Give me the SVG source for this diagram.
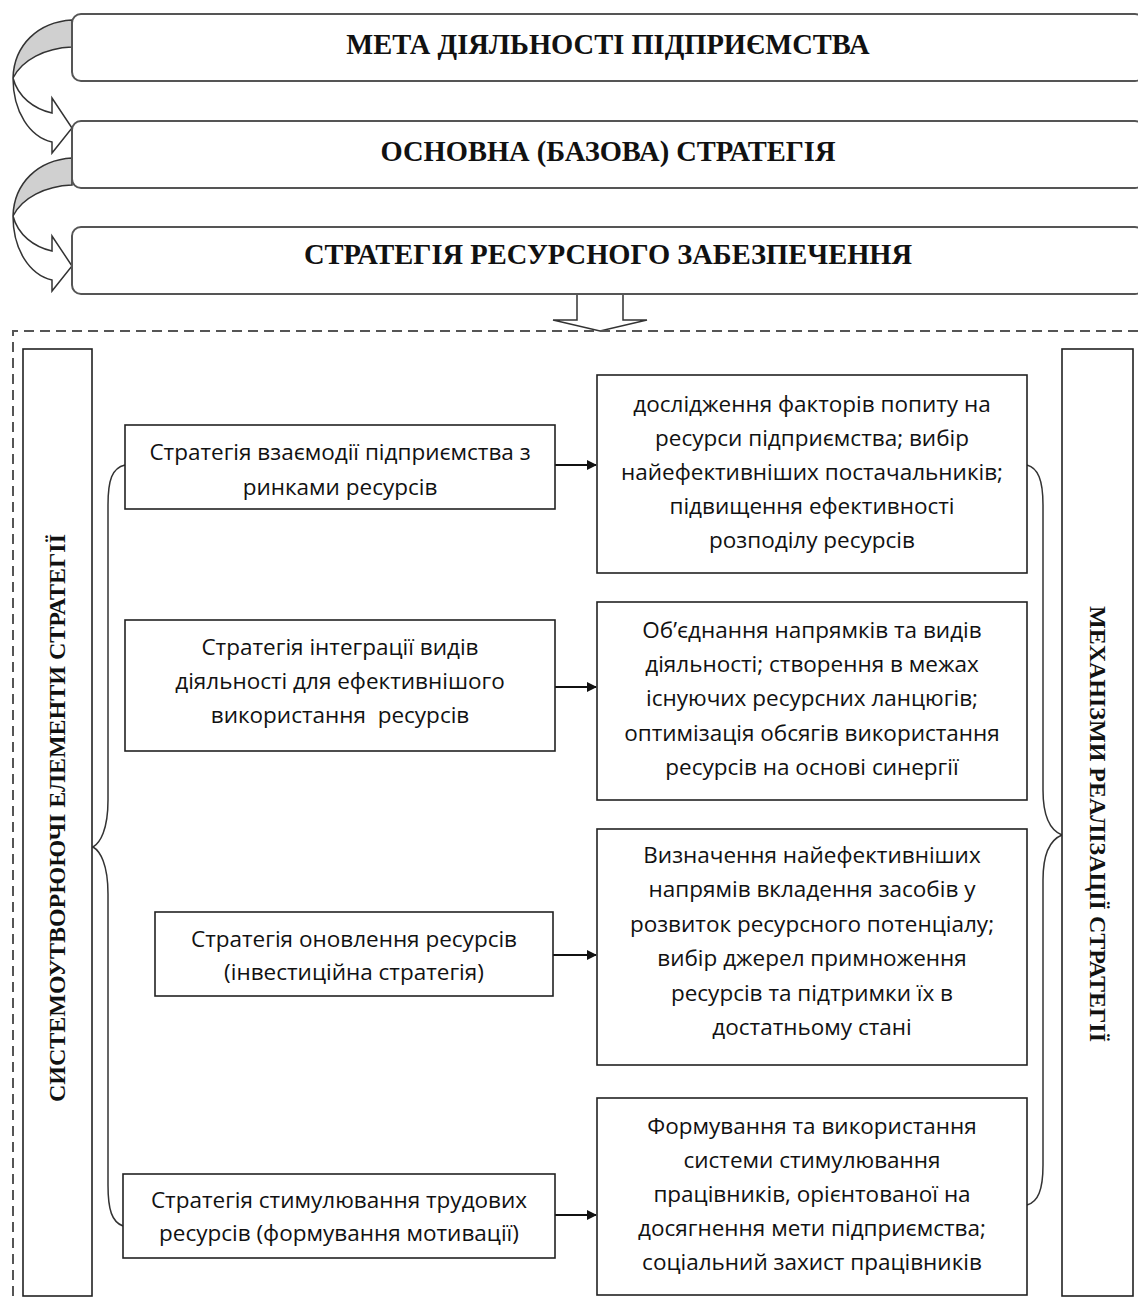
<svg xmlns="http://www.w3.org/2000/svg" width="1138" height="1300" viewBox="0 0 1138 1300">
<defs>
<style>
.title{font-family:"Liberation Serif","Times New Roman",serif;font-weight:bold;font-size:28.5px;fill:#111;text-anchor:middle}
.vt{font-family:"Liberation Serif","Times New Roman",serif;font-weight:bold;font-size:24px;fill:#111;text-anchor:middle}
.t{font-family:"Open Sans","Noto Sans",sans-serif;font-size:22.5px;fill:#111;text-anchor:middle}
.rbox{fill:#fff;stroke:#555;stroke-width:2}
.box{fill:#fff;stroke:#222;stroke-width:1.6}
.arr{fill:#fff;stroke:#333;stroke-width:1.5;stroke-linejoin:miter}
.shade{fill:#d0d0d0;stroke:#333;stroke-width:1.5}
.brace{fill:none;stroke:#333;stroke-width:1.5}
.conn{fill:none;stroke:#111;stroke-width:1.8}
</style>
<marker id="ah" viewBox="0 0 10 10" refX="9" refY="5" markerWidth="10" markerHeight="10" markerUnits="userSpaceOnUse" orient="auto">
<path d="M0,0 L10,5 L0,10 Z" fill="#111"/>
</marker>
<g id="curvedArrow">
<path class="shade" d="M72,20 C38,22 14,45 13,78 C22,60 45,48 72,47 Z"/>
<path class="arr" d="M13,78 C13,112 30,137 52,142 L52,153 L72,128 L52,98 L52,113 C34,109 18,97 13,78 Z"/>
</g>
</defs>
<rect width="1138" height="1300" fill="#fff"/>

<g id="connectors">
<use href="#curvedArrow"/>
<use href="#curvedArrow" transform="translate(0,138)"/>
<path class="arr" d="M577,294 V320 H553 L600,331 L647,320 H623 V294"/>
<path d="M1138,331 H13 V1300" fill="none" stroke="#555" stroke-width="2" stroke-dasharray="10,6"/>
<path class="brace" d="M125,465 C112,468 108,480 108,505 V800 C108,830 100,843 93,847 C100,851 108,864 108,894 V1185 C108,1210 112,1222 123,1226"/>
<path class="brace" d="M1027,465 C1038,468 1043,480 1043,505 V790 C1043,820 1052,831 1062,835 C1052,839 1043,850 1043,880 V1165 C1043,1190 1038,1202 1027,1205"/>
<line class="conn" x1="555" y1="465" x2="596" y2="465" marker-end="url(#ah)"/>
<line class="conn" x1="555" y1="687" x2="596" y2="687" marker-end="url(#ah)"/>
<line class="conn" x1="553" y1="955" x2="596" y2="955" marker-end="url(#ah)"/>
<line class="conn" x1="555" y1="1215" x2="596" y2="1215" marker-end="url(#ah)"/>
</g>

<g id="goal">
<rect class="rbox" x="72" y="14" width="1072" height="67" rx="9"/>
<text class="title" x="608" y="54">МЕТА ДІЯЛЬНОСТІ ПІДПРИЄМСТВА</text>
</g>
<g id="base">
<rect class="rbox" x="72" y="121" width="1072" height="67" rx="9"/>
<text class="title" x="608" y="161">ОСНОВНА (БАЗОВА) СТРАТЕГІЯ</text>
</g>
<g id="resource">
<rect class="rbox" x="72" y="227" width="1072" height="67" rx="9"/>
<text class="title" x="608" y="264">СТРАТЕГІЯ РЕСУРСНОГО ЗАБЕЗПЕЧЕННЯ</text>
</g>

<g id="left-col">
<rect class="box" x="23" y="349" width="69" height="947"/>
<text class="vt" transform="translate(65,818) rotate(-90)">СИСТЕМОУТВОРЮЮЧІ ЕЛЕМЕНТИ СТРАТЕГІЇ</text>
</g>
<g id="right-col">
<rect class="box" x="1062" y="349" width="71" height="947"/>
<text class="vt" transform="translate(1090,824) rotate(90)">МЕХАНІЗМИ РЕАЛІЗАЦІЇ СТРАТЕГІЇ</text>
</g>

<g id="s1">
<rect class="box" x="125" y="425" width="430" height="84"/>
<text class="t" x="340" y="460">Стратегія взаємодії підприємства з</text>
<text class="t" x="340" y="495">ринками ресурсів</text>
</g>
<g id="s2">
<rect class="box" x="125" y="620" width="430" height="131"/>
<text class="t" x="340" y="655">Стратегія інтеграції видів</text>
<text class="t" x="340" y="689">діяльності для ефективнішого</text>
<text class="t" x="340" y="723" xml:space="preserve" style="white-space:pre">використання  ресурсів</text>
</g>
<g id="s3">
<rect class="box" x="155" y="912" width="398" height="84"/>
<text class="t" x="354" y="947">Стратегія оновлення ресурсів</text>
<text class="t" x="354" y="980">(інвестиційна стратегія)</text>
</g>
<g id="s4">
<rect class="box" x="123" y="1174" width="432" height="84"/>
<text class="t" x="339" y="1208">Стратегія стимулювання трудових</text>
<text class="t" x="339" y="1241">ресурсів (формування мотивації)</text>
</g>

<g id="m1">
<rect class="box" x="597" y="375" width="430" height="198"/>
<text class="t" x="812" y="412">дослідження факторів попиту на</text>
<text class="t" x="812" y="446">ресурси підприємства; вибір</text>
<text class="t" x="812" y="480">найефективніших постачальників;</text>
<text class="t" x="812" y="514">підвищення ефективності</text>
<text class="t" x="812" y="548">розподілу ресурсів</text>
</g>
<g id="m2">
<rect class="box" x="597" y="602" width="430" height="198"/>
<text class="t" x="812" y="638">Об’єднання напрямків та видів</text>
<text class="t" x="812" y="672">діяльності; створення в межах</text>
<text class="t" x="812" y="706">існуючих ресурсних ланцюгів;</text>
<text class="t" x="812" y="741">оптимізація обсягів використання</text>
<text class="t" x="812" y="775">ресурсів на основі синергії</text>
</g>
<g id="m3">
<rect class="box" x="597" y="829" width="430" height="236"/>
<text class="t" x="812" y="863">Визначення найефективніших</text>
<text class="t" x="812" y="897">напрямів вкладення засобів у</text>
<text class="t" x="812" y="932">розвиток ресурсного потенціалу;</text>
<text class="t" x="812" y="966">вибір джерел примноження</text>
<text class="t" x="812" y="1001">ресурсів та підтримки їх в</text>
<text class="t" x="812" y="1035">достатньому стані</text>
</g>
<g id="m4">
<rect class="box" x="597" y="1098" width="430" height="197"/>
<text class="t" x="812" y="1134">Формування та використання</text>
<text class="t" x="812" y="1168">системи стимулювання</text>
<text class="t" x="812" y="1202">працівників, орієнтованої на</text>
<text class="t" x="812" y="1236">досягнення мети підприємства;</text>
<text class="t" x="812" y="1270">соціальний захист працівників</text>
</g>
</svg>
